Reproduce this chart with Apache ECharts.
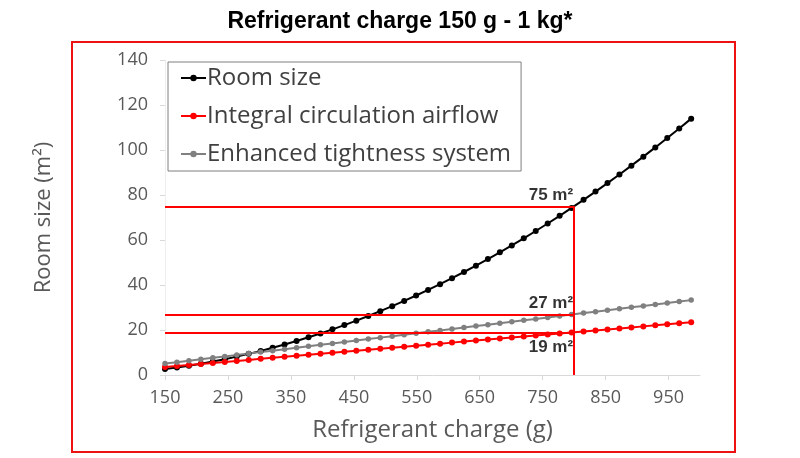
<!DOCTYPE html>
<html>
<head>
<meta charset="utf-8">
<script src="https://cdn.jsdelivr.net/npm/echarts@6/dist/echarts.min.js"></script>
<style>html,body{margin:0;padding:0;background:#fff;}#c{width:800px;height:458px;}</style>
</head>
<body>
<div id="c"></div>
<script>
var titleText = 'Refrigerant charge 150 g - 1 kg*';
var seriesNames = ['Room size', 'Integral circulation airflow', 'Enhanced tightness system'];
var charges = [150,169,188,207,226,245,264,283,302,321,340,359,378,397,416,435,454,473,492,511,530,549,568,587,606,625,644,663,682,701,720,739,758,777,796,815,834,853,872,891,910,929,948,967,986];
var roomSize = [2.64,3.35,4.14,5.02,5.99,7.03,8.17,9.39,10.69,12.08,13.55,15.10,16.75,18.47,20.28,22.18,24.16,26.22,28.37,30.60,32.92,35.32,37.81,40.38,43.04,45.78,48.61,51.52,54.51,57.59,60.76,64.00,67.34,70.76,74.26,77.85,81.52,85.28,89.12,93.04,97.05,101.15,105.33,109.59,113.94];
var integralAirflow = [3.56,4.01,4.47,4.92,5.37,5.82,6.27,6.72,7.17,7.62,8.08,8.53,8.98,9.43,9.88,10.33,10.78,11.23,11.69,12.14,12.59,13.04,13.49,13.94,14.39,14.84,15.30,15.75,16.20,16.65,17.10,17.55,18.00,18.45,18.91,19.36,19.81,20.26,20.71,21.16,21.61,22.06,22.52,22.97,23.42];
var tightness = [5.06,5.70,6.35,6.99,7.63,8.27,8.91,9.55,10.19,10.83,11.48,12.12,12.76,13.40,14.04,14.68,15.32,15.96,16.61,17.25,17.89,18.53,19.17,19.81,20.45,21.09,21.74,22.38,23.02,23.66,24.30,24.94,25.58,26.22,26.87,27.51,28.15,28.79,29.43,30.07,30.71,31.35,32.00,32.64,33.28];
var xTicks = [150,250,350,450,550,650,750,850,950];
var refCharge = 800;
var refValues = [75, 27, 19];
var refLabels = ['75 m²', '27 m²', '19 m²'];

function pairs(xs, ys){ return xs.map(function(x,i){ return [x, ys[i]]; }); }

var chart = echarts.init(document.getElementById('c'), null, {renderer:'canvas'});
var axisFont = 'Open Sans';
var guideColor = '#ff0000';

var guideLines = refValues.map(function(v){ return [{coord:[150, v]}, {coord:[refCharge, v]}]; });
guideLines.push([{coord:[refCharge, 0]}, {coord:[refCharge, refValues[0]]}]);

var labelPos = [
  {position:'left', align:'right', verticalAlign:'bottom', offset:[4,-2]},
  {position:'left', align:'right', verticalAlign:'bottom', offset:[4,-2]},
  {position:'left', align:'right', verticalAlign:'top', offset:[4,7]}
];

chart.setOption({
  animation: false,
  title: {
    text: titleText, left: 'center', top: 5,
    textStyle: {fontFamily: 'Liberation Sans', fontWeight: 'bold', fontSize: 23, color: '#000'}
  },
  graphic: [{
    type: 'rect', shape: {x: 72, y: 42, width: 663, height: 410},
    style: {fill: 'none', stroke: '#ee1111', lineWidth: 2}, z: 0
  }],
  legend: {
    data: seriesNames,
    orient: 'vertical', left: 168, top: 62,
    backgroundColor: '#fff', borderColor: '#7f7f7f', borderWidth: 1,
    padding: [4, 10, 5, 12], itemGap: 14, itemWidth: 25, itemHeight: 8,
    textStyle: {fontFamily: axisFont, fontSize: 24, color: '#404040', padding:[0,0,0,-4]}
  },
  grid: {left: 165, right: 100, top: 60, bottom: 83},
  xAxis: {
    type: 'value', min: 150, max: 1000,
    name: 'Refrigerant charge (g)', nameLocation: 'middle', nameGap: 43,
    nameTextStyle: {fontFamily: axisFont, fontSize: 24, color: '#595959'},
    axisLine: {show: true, lineStyle: {color: '#d9d9d9', width: 1}},
    axisTick: {show: true, length: 5, customValues: xTicks, lineStyle: {color: '#d9d9d9'}},
    axisLabel: {customValues: xTicks, margin: 14, fontFamily: axisFont, fontSize: 18, color: '#595959'},
    splitLine: {show: false}
  },
  yAxis: {
    type: 'value', min: 0, max: 140, interval: 20,
    name: 'Room size (m²)', nameLocation: 'middle', nameGap: 110,
    nameTextStyle: {fontFamily: axisFont, fontSize: 22, color: '#595959'},
    axisLine: {show: true, lineStyle: {color: '#eeeeee', width: 1}},
    axisTick: {show: true, length: 5, lineStyle: {color: '#d9d9d9'}},
    axisLabel: {margin: 17, fontFamily: axisFont, fontSize: 18, color: '#595959'},
    splitLine: {show: false}
  },
  series: [
    {
      name: seriesNames[0], type: 'line', data: pairs(charges, roomSize),
      symbol: 'circle', symbolSize: 6, showAllSymbol: true,
      lineStyle: {color: '#000', width: 2}, itemStyle: {color: '#000'}, z: 3
    },
    {
      name: seriesNames[1], type: 'line', data: pairs(charges, integralAirflow),
      symbol: 'circle', symbolSize: 6, showAllSymbol: true,
      lineStyle: {color: '#ff0000', width: 2}, itemStyle: {color: '#ff0000'}, z: 3
    },
    {
      name: seriesNames[2], type: 'line', data: pairs(charges, tightness),
      symbol: 'circle', symbolSize: 5.5, showAllSymbol: true,
      lineStyle: {color: '#808080', width: 2}, itemStyle: {color: '#808080'}, z: 3
    },
    {
      name: 'guides', type: 'line', data: [], silent: true, z: 5,
      markLine: {
        silent: true, symbol: 'none', animation: false,
        label: {show: false},
        lineStyle: {color: guideColor, width: 2, type: 'solid'},
        emphasis: {disabled: true},
        data: guideLines
      }
    },
    {
      name: 'labels', type: 'scatter', silent: true, z: 6,
      symbolSize: 0,
      data: refValues.map(function(v, i){
        return {
          value: [refCharge, v],
          label: Object.assign({
            show: true, formatter: refLabels[i],
            fontFamily: 'Liberation Sans', fontWeight: 'bold', fontSize: 17, color: '#000'
          }, labelPos[i])
        };
      })
    }
  ]
});
</script>
</body>
</html>
